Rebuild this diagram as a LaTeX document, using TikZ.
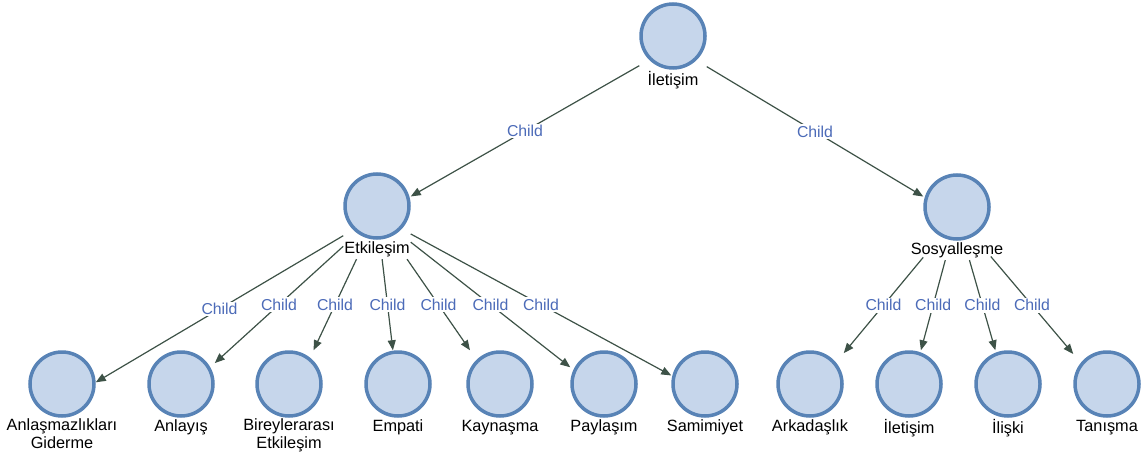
\documentclass[tikz,border=0pt]{standalone}
\usepackage{fontspec}
\setmainfont{Liberation Sans}
\usetikzlibrary{arrows.meta,positioning,fit}
\definecolor{NodeFill}{HTML}{C6D6EB}
\definecolor{NodeRim}{HTML}{5883B6}
\definecolor{EdgeGreen}{HTML}{3D5247}
\definecolor{ChildBlue}{HTML}{4C6BB8}

\begin{document}
\begin{tikzpicture}[
  x=1pt, y=-1pt,
  concept/.style={circle, draw=NodeRim, fill=NodeFill, line width=3.5pt, minimum size=64pt, inner sep=0pt},
  caption/.style={align=center, inner sep=0pt, font=\fontsize{16.3}{18}\selectfont, execute at begin node=\strut},
  group/.style={inner sep=0pt, outer sep=0pt},
  arrow/.style={-{Triangle[length=10pt, width=8pt]}, line width=1.2pt, color=EdgeGreen},
  child/.style={midway, fill=white, inner sep=1.5pt, text=ChildBlue, font=\fontsize{15.8}{18}\selectfont}
]
  \useasboundingbox (0,0) rectangle (1147,457);

  % circle, caption and the box round both
  \foreach \id/\x/\y/\name in {
      ilt/673/36/{İletişim},
      etk/377/206/{Etkileşim},
      sos/957/207/{Sosyalleşme},
      anl/62/384/{Anlaşmazlıkları\\Giderme},
      any/181/384/{Anlayış},
      bir/289/384/{Bireylerarası\\Etkileşim},
      emp/398/384/{Empati},
      kay/500/384/{Kaynaşma},
      pay/604/384/{Paylaşım},
      sam/705/384/{Samimiyet},
      ark/810/384/{Arkadaşlık},
      ilk/909/384/{İletişim},
      ili/1008/384/{İlişki},
      tan/1107/384/{Tanışma}}{
    \node[concept] (\id-c) at (\x,\y) {};
    \node[caption, below=1pt of \id-c] (\id-t) {\name};
    \node[group, fit=(\id-c)(\id-t.south)] (\id) {};
  }

  \draw[arrow] (ilt) -- (etk) node[child] {Child};
  \draw[arrow] (ilt) -- (sos) node[child] {Child};

  \draw[arrow] (etk) -- (anl) node[child] {Child};
  \draw[arrow] (etk) -- (any) node[child] {Child};
  \draw[arrow] (etk) -- (bir) node[child] {Child};
  \draw[arrow] (etk) -- (emp) node[child] {Child};
  \draw[arrow] (etk) -- (kay) node[child] {Child};
  \draw[arrow] (etk) -- (pay) node[child] {Child};
  \draw[arrow] (etk) -- (sam) node[child] {Child};

  \draw[arrow] (sos) -- (ark) node[child] {Child};
  \draw[arrow] (sos) -- (ilk) node[child] {Child};
  \draw[arrow] (sos) -- (ili) node[child] {Child};
  \draw[arrow] (sos) -- (tan) node[child] {Child};
\end{tikzpicture}
\end{document}
